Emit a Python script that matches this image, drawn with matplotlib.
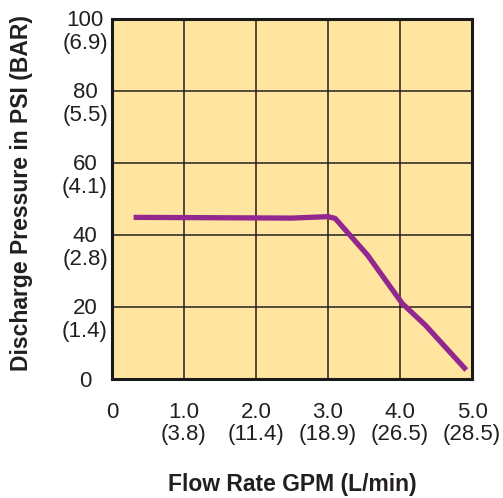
import matplotlib.pyplot as plt

# flow rate (GPM) vs discharge pressure (PSI)
gpm = [0.30, 2.50, 3.00, 3.10, 3.55, 4.03, 4.35, 4.92]
psi = [44.9, 44.7, 45.1, 44.6, 34.4, 21.0, 15.0, 2.5]

x_ticks = [0, 1, 2, 3, 4, 5]
x_main = ['0', '1.0', '2.0', '3.0', '4.0', '5.0']
x_metric = ['', '(3.8)', '(11.4)', '(18.9)', '(26.5)', '(28.5)']
y_ticks = [0, 20, 40, 60, 80, 100]
y_main = ['0', '20', '40', '60', '80', '100']
y_metric = ['', '(1.4)', '(2.8)', '(4.1)', '(5.5)', '(6.9)']

plt.rcParams['font.family'] = ['Liberation Sans', 'DejaVu Sans']
txt_color = '#231F20'

fig = plt.figure(figsize=(5.03, 4.98), dpi=100)
ax = fig.add_axes([112 / 503, 119 / 498, 360 / 503, 360 / 498])
ax.set_facecolor('#FFE59F')

ax.plot(gpm, psi, color='#92278F', linewidth=3.8, solid_capstyle='butt', zorder=3)

ax.set_xlim(0, 5)
ax.set_ylim(0, 100)
ax.set_xticks(x_ticks)
ax.set_yticks(y_ticks)
ax.grid(True, color='#231F20', linewidth=1.1)
for s in ax.spines.values():
    s.set_linewidth(2.2)
    s.set_color('#1a1a1a')
ax.tick_params(length=0)
ax.set_xticklabels([])
ax.set_yticklabels([])

# tick labels: number near the grid line, metric value on a second line
kw = dict(textcoords='offset pixels', ha='center', va='center', fontsize=16,
          color=txt_color, annotation_clip=False)
for x, a, b in zip(x_ticks, x_main, x_metric):
    ax.annotate(a, (x, 0), xytext=(0, -33), **kw)
    if b:
        ax.annotate(b, (x, 0), xytext=(0, -55), **kw)
for y, a, b in zip(y_ticks, y_main, y_metric):
    ax.annotate(a, (0, y), xytext=(-27, -2), **kw)
    if b:
        ax.annotate(b, (0, y), xytext=(-27, -25), **kw)

fig.text(292 / 503, 1 - 484 / 498, 'Flow Rate GPM (L/min)', ha='center', va='center',
         fontsize=16.5, fontweight='bold', color=txt_color)
fig.text(22 / 503, 1 - 193 / 498, 'Discharge Pressure in PSI (BAR)', ha='center', va='center',
         rotation=90, fontsize=16.5, fontweight='bold', color=txt_color)

fig.savefig('out.png', dpi=100)
